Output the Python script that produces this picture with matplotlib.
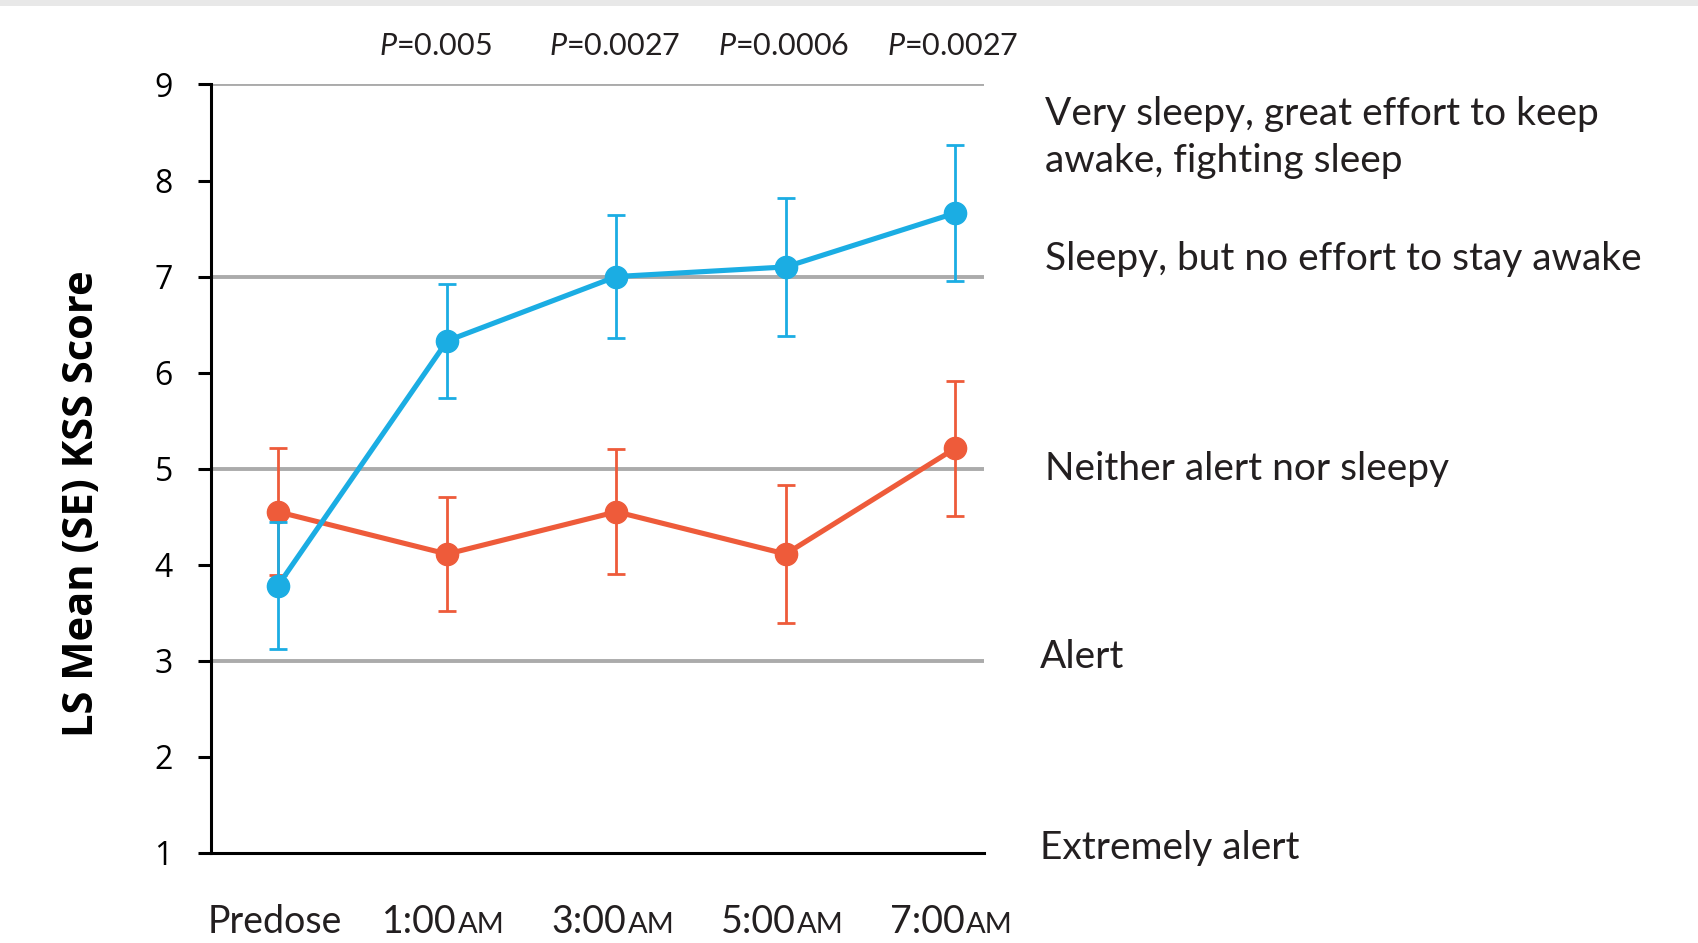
import matplotlib
matplotlib.use("Agg")
import matplotlib.pyplot as plt
import matplotlib.transforms as mtransforms
from matplotlib.offsetbox import TextArea, HPacker, AnnotationBbox
from matplotlib.patches import Rectangle

plt.rcParams['font.family'] = ['Lato', 'DejaVu Sans']
plt.rcParams['mathtext.fontset'] = 'custom'
plt.rcParams['mathtext.it'] = 'Lato:italic'
plt.rcParams['mathtext.rm'] = 'Lato'

# data
times = ["Predose", "1:00", "3:00", "5:00", "7:00"]
time_suffix = ["", "AM", "AM", "AM", "AM"]
blue_mean = [3.78, 6.33, 7.00, 7.10, 7.66]
blue_se = [0.66, 0.59, 0.645, 0.72, 0.71]
orange_mean = [4.55, 4.11, 4.55, 4.11, 5.21]
orange_se = [0.66, 0.59, 0.65, 0.72, 0.70]
p_values = ["", "0.005", "0.0027", "0.0006", "0.0027"]
level_values = [8.45, 7.18, 5.0, 3.04, 1.05]
level_labels = ["Very sleepy, great effort to keep\nawake, fighting sleep",
                "Sleepy, but no effort to stay awake",
                "Neither alert nor sleepy",
                "Alert",
                "Extremely alert"]
grid_levels = [3, 5, 7, 9]

BLUE = "#1BADE3"
ORANGE = "#EE5B3A"
GRAY = "#ABABAB"
TXT = "#231F20"


def main():
    fig = plt.figure(figsize=(16.99, 9.43), dpi=100)
    ax = fig.add_axes([0.1242, 0.0958, 0.579 - 0.1242, 0.9104 - 0.0958])

    # thin grey band at the top of the screenshot
    fig.add_artist(Rectangle((0, 0.994), 1, 0.006, transform=fig.transFigure,
                             color="#E8E8E8", lw=0))

    x = list(range(len(times)))

    for lv in grid_levels:
        ax.axhline(lv, color=GRAY, lw=2.8, zorder=1)

    ax.errorbar(x, orange_mean, yerr=orange_se, color=ORANGE, lw=3.7,
                elinewidth=2.0, capsize=6.5, capthick=2.0, marker='o',
                markersize=16, zorder=3)
    ax.errorbar(x, blue_mean, yerr=blue_se, color=BLUE, lw=3.7,
                elinewidth=2.0, capsize=6.5, capthick=2.0, marker='o',
                markersize=16, zorder=4)

    ax.set_xlim(-0.395, 4.17)
    ax.set_ylim(1, 9)
    ax.set_yticks(range(1, 10))
    ax.tick_params(axis='y', length=9.4, width=2.2, pad=18, labelsize=23,
                   labelcolor='black')
    for lab in ax.get_yticklabels():
        lab.set_family('Open Sans')
    ax.set_xticks([])
    for side in ['top', 'right']:
        ax.spines[side].set_visible(False)
    for side in ['left', 'bottom']:
        ax.spines[side].set_linewidth(2.2)
        ax.spines[side].set_zorder(5)

    ax.set_ylabel("LS Mean (SE) KSS Score", fontsize=30, fontweight='bold',
                  family='Open Sans', color='black')
    ax.yaxis.set_label_coords(-0.14, 0.454)

    # x tick labels with small-cap AM
    for i, (t, s) in enumerate(zip(times, time_suffix)):
        parts = [TextArea(t, textprops=dict(fontsize=27, color=TXT))]
        if s:
            parts.append(TextArea(s, textprops=dict(fontsize=21, color=TXT)))
        box = HPacker(children=parts, align="baseline", pad=0, sep=1)
        ab = AnnotationBbox(box, (i - 0.02, 0),
                            xycoords=('data', 'axes fraction'),
                            xybox=(0, -50), boxcoords="offset points",
                            frameon=False, box_alignment=(0.5, 0.5))
        ax.add_artist(ab)

    # p values above the plot, left aligned a little before each point
    trans = mtransforms.blended_transform_factory(ax.transData, ax.transAxes)
    for i, p in enumerate(p_values):
        if p:
            ax.text(i - 0.40, 1.050, "$P$=" + p, transform=trans, ha='left',
                    va='center', fontsize=22, color=TXT)

    # KSS level descriptions
    for lv, lab in zip(level_values, level_labels):
        xpos = 4.53 if lv > 4 else 4.50
        ax.text(xpos, lv, lab, ha='left', va='center', fontsize=28,
                color=TXT, linespacing=1.4, clip_on=False)

    fig.savefig("out.png", dpi=100)


if __name__ == "__main__":
    main()
